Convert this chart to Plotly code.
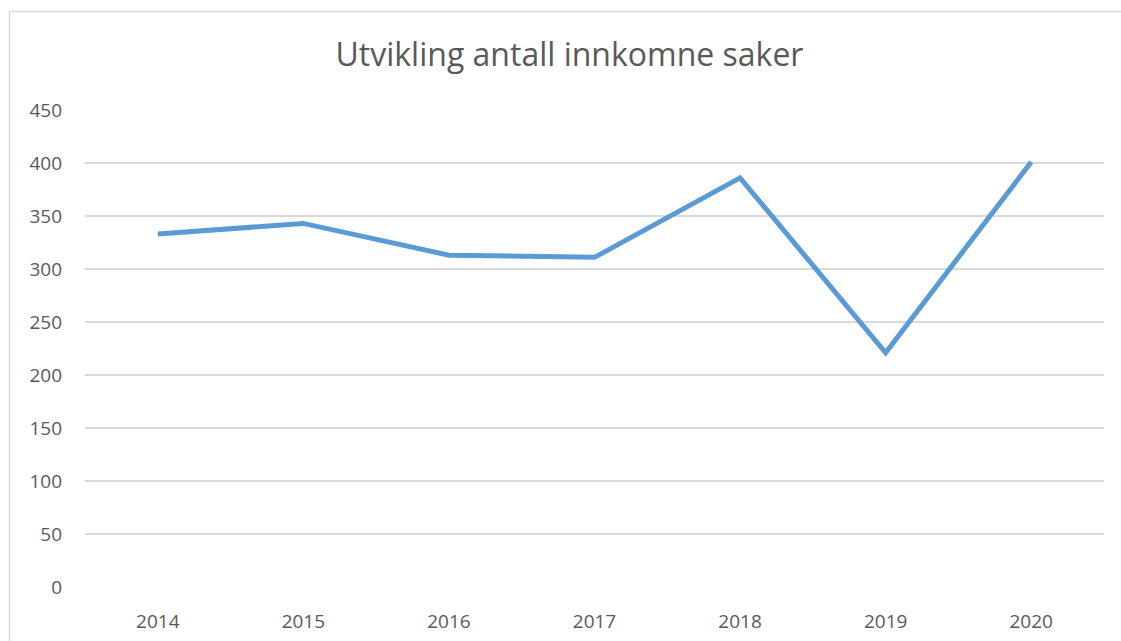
import plotly.graph_objects as go

years = ["2014", "2015", "2016", "2017", "2018", "2019", "2020"]
cases = [333, 343, 313, 311, 386, 221, 401]
y_ticks = [0, 50, 100, 150, 200, 250, 300, 350, 400, 450]

W, H = 1121, 641
L, R, T, B = 85, 17, 110, 54
pw, ph = W - L - R, H - T - B

def px(x):
    return (x - L) / pw

def py(y):
    return (H - B - y) / ph

fig = go.Figure()
fig.add_trace(go.Scatter(
    x=years, y=cases, mode="lines",
    line=dict(color="#5b9bd5", width=5),
    showlegend=False, hoverinfo="x+y",
))

font_fam = "Open Sans, Lato, sans-serif"
fig.update_layout(
    width=W, height=H,
    margin=dict(l=L, r=R, t=T, b=B, autoexpand=False),
    paper_bgcolor="white", plot_bgcolor="white",
    title=dict(text="Utvikling antall innkomne saker", x=0.508, xanchor="center",
               y=1 - 55 / H, yanchor="middle",
               font=dict(family=font_fam, size=32, color="#595959")),
    xaxis=dict(type="category", showgrid=False, zeroline=False, showline=False,
               automargin=False,
               tickfont=dict(family=font_fam, size=19, color="#595959"),
               ticks="", ticklabelstandoff=21, range=[-0.5, 6.5]),
    yaxis=dict(range=[0, 450], tickvals=y_ticks, showgrid=True, gridcolor="#d9d9d9",
               gridwidth=1.5, zeroline=False, showline=False, automargin=False,
               tickfont=dict(family=font_fam, size=19, color="#595959"),
               ticks="", ticklabelstandoff=22),
    shapes=[dict(type="rect", xref="paper", yref="paper",
                 x0=px(9.5), x1=px(1130), y0=py(11.5), y1=py(660),
                 line=dict(color="#d9d9d9", width=1.5), layer="below")],
)

fig.write_html("out.html")
